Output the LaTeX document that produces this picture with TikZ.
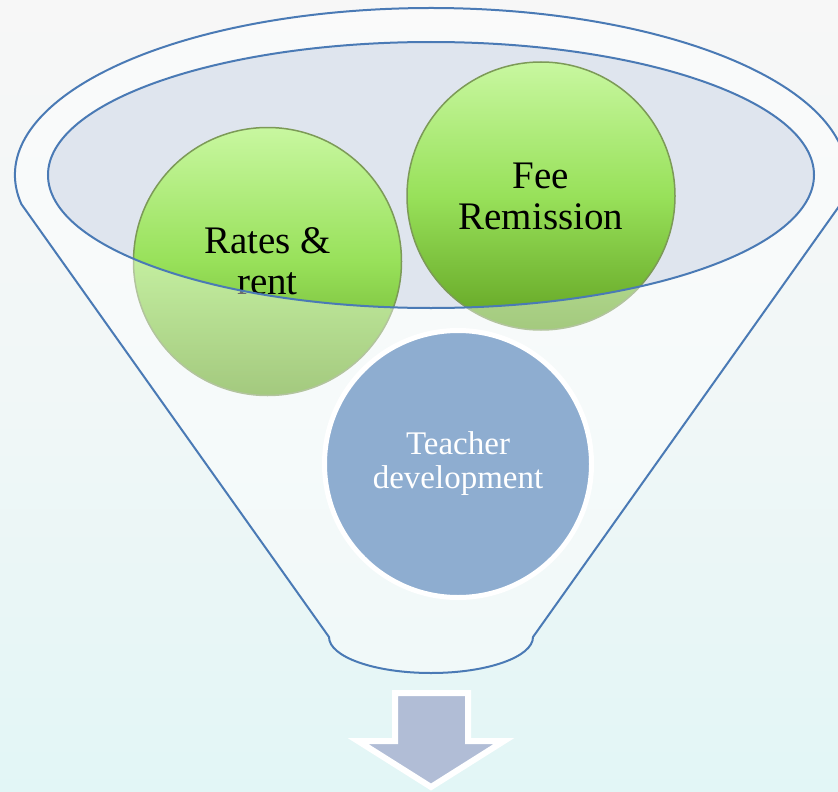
\documentclass[tikz,border=0pt]{standalone}
\usepackage{fontspec}
\setmainfont{Liberation Serif}

\definecolor{rimblue}{HTML}{4A7AB5}
\definecolor{mouth}{HTML}{DFE5EE}
\definecolor{ballline}{HTML}{7C9A57}
\definecolor{balltop}{HTML}{C8F7A0}
\definecolor{ballmid}{HTML}{98E15A}
\definecolor{ballbot}{HTML}{62A322}
\definecolor{steel}{HTML}{8EADD0}
\definecolor{arrowfill}{HTML}{B1BDD6}
\definecolor{bgtop}{HTML}{F7F7F7}
\definecolor{bgbot}{HTML}{E2F6F6}

\begin{document}
\begin{tikzpicture}[x=1pt, y=-1pt,
    greenball/.style={circle, draw=ballline, line width=1.5pt, minimum size=268pt, inner sep=0pt,
        top color=balltop, bottom color=ballbot, middle color=ballmid,
        align=center, font=\fontsize{39}{41}\selectfont},
    blueball/.style={circle, draw=white, line width=5pt, fill=steel, minimum size=267pt, inner sep=0pt,
        align=center, text=white, font=\fontsize{33}{34}\selectfont},
    funnel/.style={draw=rimblue, line width=2pt}
]
    \useasboundingbox (0,0) rectangle (838,792);
    \fill[top color=bgtop, bottom color=bgbot, middle color=bgtop!70!bgbot] (0,0) rectangle (838,792);

    % Mouth of the funnel
    \fill[mouth] (431,175) ellipse [x radius=383, y radius=133];

    % Two balls dropped in
    \node[greenball] (rates) at (267.5,261.5) {Rates \&\\rent};
    \node[greenball] (fee) at (541,196) {Fee\\Remission};

    % Funnel body in front, open at the mouth
    \path[funnel, fill=white, fill opacity=0.42, even odd rule]
        (21.3,204) arc (190:-10:416pt and 167pt) -- (533,637)
        arc (0:-180:102pt and 36pt) -- cycle
        (431,175) ellipse [x radius=383, y radius=133];

    \node[blueball] (teacher) at (458,464) {Teacher\\development};

    % Output arrow
    \filldraw[draw=white, fill=arrowfill, line width=6pt, miter limit=10]
        (395,693) -- (468,693) -- (468,741) -- (504,741) -- (431,787) -- (358,741) -- (395,741) -- cycle;
\end{tikzpicture}
\end{document}
